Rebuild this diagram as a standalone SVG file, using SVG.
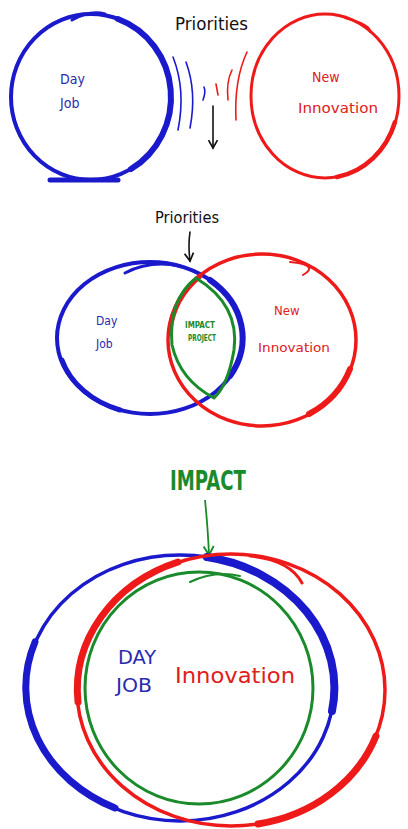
<svg xmlns="http://www.w3.org/2000/svg" width="408" height="829" viewBox="0 0 408 829">
<style>
.b{fill:none;stroke:#1a1acc;stroke-linecap:round}
.r{fill:none;stroke:#ee1a1a;stroke-linecap:round}
.g{fill:none;stroke:#1a8a2a;stroke-linecap:round}
.k{fill:none;stroke:#111;stroke-width:1.6;stroke-linecap:round}
text{font-family:"DejaVu Sans Condensed","Liberation Sans",sans-serif}
.tb{fill:#2a2ab0}
.tr{fill:#e02020}
.tg{fill:#1a8a2a}
.tk{fill:#111}
</style>
<defs>
<marker id="ah" viewBox="0 0 10 10" refX="8" refY="5" markerWidth="7" markerHeight="7" orient="auto"><path d="M1,1 L8,5 L1,9" fill="none" stroke="#111" stroke-width="1.5"/></marker>
<marker id="ahg" viewBox="0 0 10 10" refX="8" refY="5" markerWidth="7" markerHeight="7" orient="auto"><path d="M1,1 L8,5 L1,9" fill="none" stroke="#1a8a2a" stroke-width="1.5"/></marker>
</defs>
<rect width="408" height="829" fill="#fff"/>

<!-- Panel 1 -->
<g id="p1-dayjob">
<ellipse class="b" cx="91" cy="97" rx="80" ry="83" stroke-width="4"/>
<path class="b" d="M118,19 A80 83 0 0 1 131,169" stroke-width="6"/>
<path class="b" d="M72,20 Q90,10 105,14" stroke-width="3"/>
<path class="b" d="M50,180 L118,180" stroke-width="5"/>
<text class="tb" x="60" y="84" font-size="14">Day</text>
<text class="tb" x="60" y="108" font-size="14">Job</text>
</g>
<g id="p1-innovation">
<ellipse class="r" cx="325" cy="96" rx="74" ry="82" stroke-width="3"/>
<path class="r" d="M345,18 Q372,25 370,32" stroke-width="2"/>
<path class="r" d="M395,122 A74 82 0 0 1 337,177" stroke-width="4.5"/>
<text class="tr" x="312" y="82" font-size="14">New</text>
<text class="tr" x="298" y="113" font-size="14" textLength="80" lengthAdjust="spacingAndGlyphs">Innovation</text>
</g>
<g id="p1-priorities">
<text class="tk" x="175" y="30" font-size="17" textLength="73" lengthAdjust="spacingAndGlyphs">Priorities</text>
</g>
<g id="connectors">
<path class="b" d="M173,57 Q186,90 178,130" stroke-width="1.6"/>
<path class="b" d="M186,62 Q197,92 190,128" stroke-width="1.6"/>
<path class="b" d="M204,87 Q206,92 203,100" stroke-width="1.6"/>
<path class="r" d="M216,84 L218,95" stroke-width="1.6"/>
<path class="r" d="M232,70 Q226,82 228,100" stroke-width="1.6"/>
<path class="r" d="M247,52 Q234,80 236,120" stroke-width="1.6"/>
<path class="k" d="M213,106 L213,148" marker-end="url(#ah)"/>
<path class="k" d="M190,232 Q188,245 190,261" marker-end="url(#ah)"/>
<path d="M205,500 Q208,530 209,555" fill="none" stroke="#1a8a2a" stroke-width="1.8" marker-end="url(#ahg)"/>
</g>

<!-- Panel 2 -->
<g id="p2-dayjob">
<ellipse class="b" cx="150" cy="338" rx="93" ry="76" stroke-width="4"/>
<path class="b" d="M125,273 Q150,260 180,266" stroke-width="3"/>
<path class="b" d="M210,280 A93 76 0 0 1 230,376" stroke-width="6"/>
<path class="b" d="M62,360 A93 76 0 0 0 120,410" stroke-width="5"/>
<text class="tb" x="96" y="325" font-size="12">Day</text>
<text class="tb" x="96" y="348" font-size="12">Job</text>
</g>
<g id="p2-innovation">
<ellipse class="r" cx="262" cy="340" rx="94" ry="86" stroke-width="3.5"/>
<path class="r" d="M290,262 Q320,265 303,275" stroke-width="2"/>
<path class="r" d="M350,369 A94 86 0 0 1 309,414" stroke-width="6"/>
<path class="r" d="M200,276 A94 86 0 0 0 170,330" stroke-width="5"/>
<text class="tr" x="274" y="315" font-size="13">New</text>
<text class="tr" x="258" y="352" font-size="13" textLength="72" lengthAdjust="spacingAndGlyphs">Innovation</text>
</g>
<g id="p2-impact">
<path class="g" d="M196,278 Q240,305 234,350 Q228,385 214,398 Q180,380 172,345 Q168,300 196,278 Z" stroke-width="3"/>
<text class="tg" x="185" y="328" font-size="8.5" font-weight="bold" textLength="30" lengthAdjust="spacingAndGlyphs">IMPACT</text>
<text class="tg" x="188" y="341" font-size="8.5" font-weight="bold" textLength="28" lengthAdjust="spacingAndGlyphs">PROJECT</text>
</g>
<g id="p2-priorities">
<text class="tk" x="155" y="223" font-size="15" textLength="64" lengthAdjust="spacingAndGlyphs">Priorities</text>
</g>

<!-- Panel 3 -->
<g id="p3-impact-label">
<text class="tg" x="170" y="490" font-size="26" font-weight="bold" textLength="76" lengthAdjust="spacingAndGlyphs">IMPACT</text>
</g>
<g id="p3-dayjob">
<ellipse class="b" cx="180" cy="688" rx="154" ry="133" stroke-width="3.5"/>
<path class="b" d="M35,642 A154 133 0 0 0 115,808" stroke-width="7"/>
<path class="b" d="M207,557 A154 133 0 0 1 332,711" stroke-width="8"/>
<text class="tb" x="118" y="664" font-size="20" textLength="38" lengthAdjust="spacingAndGlyphs">DAY</text>
<text class="tb" x="116" y="692" font-size="20" textLength="36" lengthAdjust="spacingAndGlyphs">JOB</text>
</g>
<g id="p3-innovation">
<ellipse class="r" cx="231" cy="690" rx="154" ry="136" stroke-width="3.5"/>
<path class="r" d="M178,562 A154 136 0 0 0 78,702" stroke-width="7"/>
<path class="r" d="M250,556 Q290,560 302,583" stroke-width="3"/>
<path class="r" d="M376,736 A154 136 0 0 1 258,824" stroke-width="7"/>
<text class="tr" x="175" y="683" font-size="22" textLength="120" lengthAdjust="spacingAndGlyphs">Innovation</text>
</g>
<g id="p3-impact">
<ellipse class="g" cx="199" cy="688" rx="114" ry="116" stroke-width="3"/>
<path class="g" d="M190,582 Q215,570 240,576" stroke-width="2"/>
</g>
</svg>
